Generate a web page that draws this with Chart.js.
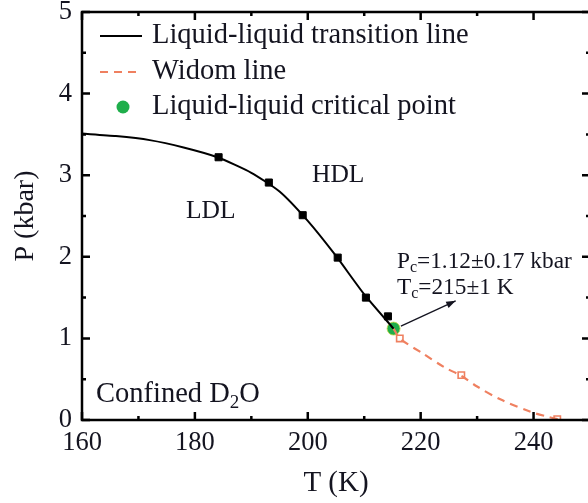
<!DOCTYPE html>
<html>
<head>
<meta charset="utf-8">
<script src="https://cdn.jsdelivr.net/npm/chart.js@4.4.1/dist/chart.umd.min.js"></script>
<style>
  html, body { margin: 0; padding: 0; background: #fff; overflow: hidden; }
  #wrap { width: 588px; height: 503px; overflow: hidden; }
</style>
</head>
<body>
<div id="wrap"><canvas id="chartPT" width="600" height="503"></canvas></div>
<script>
// Liquid-liquid transition line (fitted curve) and measured points
const llCurveT = [160, 166, 172, 178, 184, 190, 195, 200, 205, 210, 215.2];
const llCurveP = [3.51, 3.48, 3.43, 3.34, 3.22, 3.03, 2.80, 2.44, 2.01, 1.54, 1.12];
const llPointT = [184.2, 193.1, 199.1, 205.3, 210.3, 214.2];
const llPointP = [3.22, 2.91, 2.51, 1.99, 1.5, 1.27];

// Widom line (dashed) and its points
const widomCurveT = [215.2, 216.3, 220.5, 224.1, 227.2, 230, 234.2, 239.5, 242.5, 245];
const widomCurveP = [1.12, 1.0, 0.81, 0.65, 0.54, 0.41, 0.25, 0.1, 0.04, 0.0];
const widomPointT = [216.3, 227.2, 244.2];
const widomPointP = [1.0, 0.55, 0.01];

// critical point
const criticalT = [215.2];
const criticalP = [1.12];

// axes
const xTickLabels = [160, 180, 200, 220, 240];
const yTickLabels = [0, 1, 2, 3, 4, 5];

// arrow from critical point to the label [T, P]
const arrowFrom = [216.5, 1.15];
const arrowTo = [226.2, 1.46];

const serif = "'Liberation Serif', 'Times New Roman', serif";
const ink = "#141420";
const orange = "#ef8060";
const green = "#1fae4b";

const toXY = (ts, ps) => ts.map((t, i) => ({ x: t, y: ps[i] }));

// frame, inward ticks, legend and labels
const decorPlugin = {
  id: "decor",
  afterDraw(chart) {
    const ctx = chart.ctx;
    const a = chart.chartArea;
    const xs = chart.scales.x, ys = chart.scales.y;
    ctx.save();
    ctx.strokeStyle = "#000";
    ctx.lineWidth = 2.5;
    ctx.strokeRect(a.left, a.top, a.right - a.left, a.bottom - a.top);

    ctx.lineWidth = 2.5;
    ctx.beginPath();
    for (let t = 160; t <= 250; t += 10) {
      const px = xs.getPixelForValue(t);
      const len = t % 20 === 0 ? 8 : 4;
      ctx.moveTo(px, a.bottom); ctx.lineTo(px, a.bottom - len);
      ctx.moveTo(px, a.top); ctx.lineTo(px, a.top + len);
    }
    for (let p = 0; p <= 5; p += 0.5) {
      const py = ys.getPixelForValue(p);
      const len = p % 1 === 0 ? 8 : 4;
      ctx.moveTo(a.left, py); ctx.lineTo(a.left + len, py);
      ctx.moveTo(a.right, py); ctx.lineTo(a.right - len, py);
    }
    ctx.stroke();

    // legend
    ctx.fillStyle = ink;
    ctx.font = "28.5px " + serif;
    ctx.textBaseline = "middle";
    ctx.textAlign = "left";
    const ds = chart.data.datasets;
    const rows = [[0, 36], [2, 72], [4, 107]];
    rows.forEach(([idx, y]) => {
      const d = ds[idx];
      if (idx === 4) {
        ctx.beginPath();
        ctx.fillStyle = d.backgroundColor;
        ctx.arc(123, y, 6.5, 0, Math.PI * 2);
        ctx.fill();
      } else {
        ctx.beginPath();
        ctx.strokeStyle = d.borderColor;
        ctx.lineWidth = 2;
        ctx.setLineDash(d.borderDash || []);
        ctx.moveTo(100, y); ctx.lineTo(142, y);
        ctx.stroke();
        ctx.setLineDash([]);
      }
      ctx.fillStyle = ink;
      ctx.fillText(d.label, 152, y);
    });

    // region labels
    ctx.font = "25.5px " + serif;
    ctx.fillText("HDL", 312, 175);
    ctx.fillText("LDL", 186, 211);
    ctx.font = "28.5px " + serif;
    ctx.fillText("Confined D", 96, 395);
    let w = ctx.measureText("Confined D").width;
    ctx.font = "19px " + serif;
    ctx.fillText("2", 96 + w, 403);
    const w2 = ctx.measureText("2").width;
    ctx.font = "28.5px " + serif;
    ctx.fillText("O", 96 + w + w2, 395);

    // critical point values
    const drawSub = (main, sub, rest, x, y) => {
      ctx.font = "23.3px " + serif;
      ctx.fillText(main, x, y);
      let cx = x + ctx.measureText(main).width;
      ctx.font = "16px " + serif;
      ctx.fillText(sub, cx, y + 6);
      cx += ctx.measureText(sub).width;
      ctx.font = "23.3px " + serif;
      ctx.fillText(rest, cx, y);
    };
    drawSub("P", "c", "=1.12\u00b10.17 kbar", 397, 262);
    drawSub("T", "c", "=215\u00b11 K", 397, 288);

    // arrow
    const x0 = xs.getPixelForValue(arrowFrom[0]), y0 = ys.getPixelForValue(arrowFrom[1]);
    const x1 = xs.getPixelForValue(arrowTo[0]), y1 = ys.getPixelForValue(arrowTo[1]);
    ctx.strokeStyle = ink;
    ctx.lineWidth = 1.3;
    ctx.beginPath();
    ctx.moveTo(x0, y0); ctx.lineTo(x1, y1);
    ctx.stroke();
    const ang = Math.atan2(y1 - y0, x1 - x0);
    ctx.beginPath();
    ctx.moveTo(x1, y1);
    ctx.lineTo(x1 - 10 * Math.cos(ang - 0.35), y1 - 10 * Math.sin(ang - 0.35));
    ctx.lineTo(x1 - 10 * Math.cos(ang + 0.35), y1 - 10 * Math.sin(ang + 0.35));
    ctx.closePath();
    ctx.fillStyle = ink;
    ctx.fill();
    ctx.restore();
  },
};

function main() {
  const ctx = document.getElementById("chartPT").getContext("2d");
  new Chart(ctx, {
    type: "scatter",
    data: {
      datasets: [
        {
          label: "Liquid-liquid transition line",
          data: toXY(llCurveT, llCurveP),
          showLine: true,
          borderColor: "#000",
          borderWidth: 2,
          pointRadius: 0,
          tension: 0.2,
        },
        {
          label: "transition points",
          data: toXY(llPointT, llPointP),
          pointStyle: "rect",
          pointRadius: 5,
          backgroundColor: "#000",
          borderColor: "#000",
          borderWidth: 1,
        },
        {
          label: "Widom line",
          data: toXY(widomCurveT, widomCurveP),
          showLine: true,
          borderColor: orange,
          borderWidth: 2.2,
          borderDash: [8, 6],
          pointRadius: 0,
          tension: 0.3,
        },
        {
          label: "Widom points",
          data: toXY(widomPointT, widomPointP),
          pointStyle: "rect",
          pointRadius: 4.5,
          backgroundColor: "rgba(255,255,255,0)",
          borderColor: orange,
          borderWidth: 1.6,
        },
        {
          label: "Liquid-liquid critical point",
          data: toXY(criticalT, criticalP),
          pointRadius: 6.5,
          backgroundColor: green,
          borderColor: "#c8d84a",
          borderWidth: 0.8,
        },
      ],
    },
    options: {
      responsive: false,
      animation: false,
      events: [],
      layout: { padding: { top: 12, right: 10, left: 0, bottom: 0 } },
      plugins: { legend: { display: false }, tooltip: { enabled: false } },
      scales: {
        x: {
          type: "linear",
          min: 160,
          max: 250,
          afterFit: (s) => { s.height = 83; s.paddingLeft = 0; s.paddingRight = 0; },
          afterBuildTicks: (s) => { s.ticks = xTickLabels.map((v) => ({ value: v })); },
          grid: { display: false, drawTicks: false },
          border: { display: false },
          ticks: { color: ink, padding: 7, font: { family: serif, size: 26.5 } },
          title: {
            display: true,
            text: "T (K)",
            color: ink,
            padding: { top: 0, bottom: 2 },
            font: { family: serif, size: 29 },
          },
        },
        y: {
          type: "linear",
          min: 0,
          max: 5,
          afterFit: (s) => { s.width = 82; s.paddingTop = 0; s.paddingBottom = 0; },
          afterBuildTicks: (s) => { s.ticks = yTickLabels.map((v) => ({ value: v })); },
          grid: { display: false, drawTicks: false },
          border: { display: false },
          ticks: { color: ink, padding: 10, font: { family: serif, size: 26.5 } },
          title: {
            display: true,
            text: "P (kbar)",
            color: ink,
            padding: { top: 9, bottom: 0 },
            font: { family: serif, size: 28 },
          },
        },
      },
    },
    plugins: [decorPlugin],
  });
}

main();
</script>
</body>
</html>
